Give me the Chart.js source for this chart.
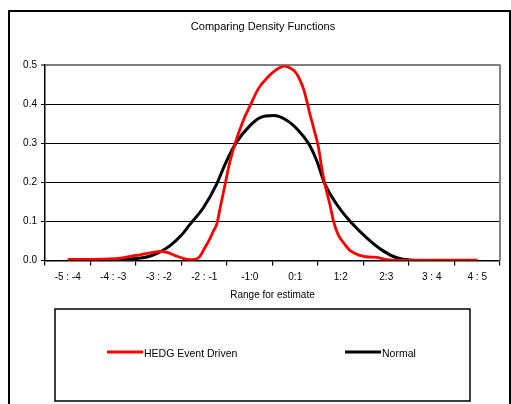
<!DOCTYPE html>
<html>
<head>
<meta charset="utf-8">
<script src="https://cdn.jsdelivr.net/npm/chart.js@4/dist/chart.umd.min.js"></script>
<style>
  html, body { margin: 0; padding: 0; background: #fff; }
  #wrap { position: relative; width: 511px; height: 404px; }
</style>
</head>
<body>
<div id="wrap"><canvas id="c"></canvas></div>
<script>
// ---- data ----
const categories = ["-5 : -4", "-4 : -3", "-3 : -2", "-2 : -1", "-1:0", "0:1", "1:2", "2:3", "3 : 4", "4 : 5"];
const yTicks = [0, 0.1, 0.2, 0.3, 0.4, 0.5];

const hedgX = [-4.5, -4.0, -3.6, -3.3, -3.0, -2.75, -2.45, -2.3, -2.15, -1.95, -1.8, -1.7, -1.6, -1.5, -1.4, -1.3, -1.22, -1.15, -1.04, -0.93, -0.79, -0.64, -0.49, -0.31, -0.13, 0.09, 0.27, 0.4, 0.5, 0.57, 0.68, 0.75, 0.82, 0.9, 1.01, 1.08, 1.15, 1.26, 1.34, 1.44, 1.59, 1.7, 1.92, 2.1, 2.29, 2.5, 2.8, 3.5, 4.5];
const hedgY = [0.003, 0.003, 0.004, 0.007, 0.013, 0.018, 0.023, 0.02, 0.013, 0.005, 0.002, 0.003, 0.01, 0.03, 0.05, 0.075, 0.095, 0.135, 0.196, 0.256, 0.311, 0.359, 0.397, 0.44, 0.466, 0.489, 0.498, 0.492, 0.483, 0.47, 0.44, 0.41, 0.376, 0.341, 0.29, 0.238, 0.196, 0.144, 0.101, 0.067, 0.041, 0.026, 0.013, 0.009, 0.008, 0.002, 0, 0.001, 0.001];

const normX = [-4.5, -4.0, -3.5, -3.0, -2.7, -2.47, -2.25, -2.0, -1.81, -1.52, -1.23, -1.04, -0.79, -0.49, -0.27, 0.02, 0.31, 0.57, 0.79, 0.97, 1.15, 1.41, 1.7, 2.07, 2.44, 2.73, 3.02, 3.5, 4.0, 4.5];
const normY = [0, 0, 0.0015, 0.005, 0.011, 0.022, 0.038, 0.065, 0.093, 0.135, 0.195, 0.247, 0.303, 0.346, 0.366, 0.371, 0.359, 0.333, 0.3, 0.256, 0.196, 0.144, 0.101, 0.058, 0.024, 0.007, 0.001, 0, 0, 0];

const seriesNames = ["HEDG Event Driven", "Normal"];
// ---------------------------------------

const FONT = "'Liberation Sans', Arial, sans-serif";
Chart.defaults.font.family = FONT;
Chart.defaults.color = '#000';

const nCat = categories.length;
const xMin = -nCat / 2, xMax = nCat / 2;
const tickVals = [];
for (let i = 0; i <= nCat * 2; i++) tickVals.push(xMin + i * 0.5);

const toPts = (xs, ys) => xs.map((x, i) => ({ x: x, y: ys[i] }));

const decorPlugin = {
  id: 'decor',
  beforeDatasetsDraw(chart) {
    const { ctx, chartArea } = chart;
    ctx.save();
    ctx.strokeStyle = '#808080';
    ctx.lineWidth = 2;
    ctx.beginPath();
    ctx.moveTo(chartArea.right, chartArea.top - 1);
    ctx.lineTo(chartArea.right, chartArea.bottom);
    ctx.stroke();
    ctx.restore();
  },
  afterDraw(chart) {
    const { ctx, chartArea, width, height } = chart;
    ctx.save();
    // outer frame
    ctx.strokeStyle = '#000';
    ctx.lineWidth = 2;
    ctx.strokeRect(9, 11, width - 10, height + 10);
    // legend box
    const bl = chartArea.left + 10, br = chartArea.right - 30;
    const bt = height - 95, bb = height - 3;
    ctx.lineWidth = 1.5;
    ctx.strokeRect(bl, bt, br - bl, bb - bt);
    const ly = height - 52;
    const starts = [107, 345];
    ctx.font = '10.5px ' + FONT;
    ctx.textBaseline = 'middle';
    ctx.textAlign = 'left';
    chart.data.datasets.forEach((ds, i) => {
      const x0 = starts[i];
      ctx.strokeStyle = ds.borderColor;
      ctx.lineWidth = 3;
      ctx.beginPath();
      ctx.moveTo(x0, ly);
      ctx.lineTo(x0 + 36, ly);
      ctx.stroke();
      ctx.fillStyle = '#000';
      ctx.fillText(ds.label, x0 + 37, ly + 2);
    });
    ctx.restore();
  }
};

new Chart(document.getElementById('c'), {
  type: 'line',
  data: {
    datasets: [
      { label: seriesNames[0], data: toPts(hedgX, hedgY), borderColor: '#ff0000', backgroundColor: '#ff0000', borderWidth: 2.8, pointRadius: 0, fill: false, cubicInterpolationMode: 'monotone' },
      { label: seriesNames[1], data: toPts(normX, normY), borderColor: '#000000', backgroundColor: '#000000', borderWidth: 3, pointRadius: 0, fill: false, cubicInterpolationMode: 'monotone' }
    ]
  },
  options: {
    responsive: true,
    maintainAspectRatio: false,
    animation: false,
    layout: { padding: { left: 26, right: 11, top: 13, bottom: 98.5 } },
    plugins: {
      legend: { display: false },
      tooltip: { enabled: false },
      title: {
        display: true,
        text: 'Comparing Density Functions',
        color: '#000',
        font: { size: 11, weight: 'normal', family: FONT },
        padding: { top: 7, bottom: 32 }
      }
    },
    scales: {
      x: {
        type: 'linear',
        min: xMin,
        max: xMax,
        afterBuildTicks: (scale) => { scale.ticks = tickVals.map(v => ({ value: v })); },
        ticks: {
          autoSkip: false,
          maxRotation: 0,
          minRotation: 0,
          padding: 6,
          font: { size: 10 },
          color: '#000',
          callback: (v) => {
            const idx = v - xMin - 0.5;
            return Number.isInteger(idx) ? categories[idx] : '';
          }
        },
        grid: {
          drawOnChartArea: false,
          tickLength: 5,
          color: (c) => (c.tick && Number.isInteger(c.tick.value)) ? '#000' : 'rgba(0,0,0,0)',
          lineWidth: 1.2
        },
        border: { color: '#000', width: 1.5 },
        title: {
          display: true,
          text: 'Range for estimate',
          color: '#000',
          font: { size: 10 },
          padding: { top: 0, bottom: 4 }
        }
      },
      y: {
        min: 0,
        max: 0.5,
        afterBuildTicks: (scale) => { scale.ticks = yTicks.map(v => ({ value: v })); },
        afterFit: (scale) => { scale.width = 19; scale._computeLabelArea = () => undefined; },
        ticks: {
          padding: 4,
          font: { size: 10 },
          color: '#000',
          callback: (v) => v.toFixed(1)
        },
        grid: {
          tickLength: 4,
          color: (c) => (c.tick && c.tick.value >= 0.499) ? '#808080' : '#000',
          lineWidth: (c) => (c.tick && c.tick.value >= 0.499) ? 2 : 1
        },
        border: { color: '#000', width: 1.5 }
      }
    }
  },
  plugins: [decorPlugin]
});
</script>
</body>
</html>
